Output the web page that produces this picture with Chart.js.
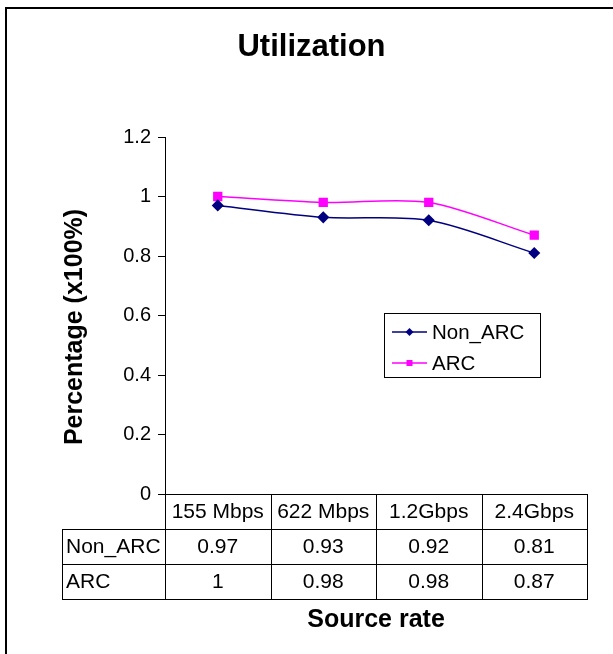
<!DOCTYPE html>
<html>
<head>
<meta charset="utf-8">
<script src="https://cdn.jsdelivr.net/npm/chart.js@4.4.0/dist/chart.umd.min.js"></script>
<style>
  html, body { margin: 0; padding: 0; background: #fff; }
  canvas { display: block; }
</style>
</head>
<body>
<canvas id="utilChart" width="613" height="654"></canvas>
<script>
const categories = ["155 Mbps", "622 Mbps", "1.2Gbps", "2.4Gbps"];
const nonArcValues = [0.97, 0.93, 0.92, 0.81];
const arcValues = [1, 0.98, 0.98, 0.87];
const yTicks = [0, 0.2, 0.4, 0.6, 0.8, 1, 1.2];
const seriesNames = ["Non_ARC", "ARC"];
const seriesColors = ["#000080", "#ff00ff"];
const yTitle = "Percentage (x100%)";

const FONT = "'Liberation Sans', Arial, sans-serif";

function marker(ctx, style, x, y, r, color) {
    ctx.fillStyle = color;
    ctx.beginPath();
    if (style === "rectRot") {
        ctx.moveTo(x, y - r);
        ctx.lineTo(x + r, y);
        ctx.lineTo(x, y + r);
        ctx.lineTo(x - r, y);
        ctx.closePath();
    } else {
        ctx.rect(x - r, y - r, 2 * r, 2 * r);
    }
    ctx.fill();
}

// outer frame, y title, data table under the axis and the boxed legend
const excelExtras = {
    id: "excelExtras",
    afterDraw(chart) {
        const ctx = chart.ctx;
        const area = chart.chartArea;
        const xs = chart.scales.x;
        const half = (xs.getPixelForValue(1) - xs.getPixelForValue(0)) / 2;
        const rowH = 35;
        const labelLeft = 62;
        const top = Math.round(area.bottom);

        ctx.save();

        // frame
        ctx.strokeStyle = "#000";
        ctx.lineWidth = 2;
        ctx.strokeRect(6, 8, 700, 700);

        // y axis title (Excel centres it a bit lower than the plot)
        ctx.save();
        ctx.translate(75, 327);
        ctx.rotate(-Math.PI / 2);
        ctx.fillStyle = "#000";
        ctx.font = "bold 25px " + FONT;
        ctx.textAlign = "center";
        ctx.textBaseline = "middle";
        ctx.fillText(yTitle, 0, 0);
        ctx.restore();

        // table grid
        ctx.lineWidth = 1;
        ctx.beginPath();
        for (let r = 1; r <= 3; r++) {
            const y = top + r * rowH + 0.5;
            ctx.moveTo(labelLeft, y);
            ctx.lineTo(Math.round(area.right) + 1, y);
        }
        ctx.moveTo(labelLeft + 0.5, top + rowH);
        ctx.lineTo(labelLeft + 0.5, top + 3 * rowH);
        for (let i = 0; i <= categories.length; i++) {
            const bx = Math.round(xs.getPixelForValue(0) - half + i * 2 * half) + 0.5;
            ctx.moveTo(bx, top);
            ctx.lineTo(bx, top + 3 * rowH + 1);
        }
        ctx.stroke();

        ctx.fillStyle = "#000";
        ctx.font = "21px " + FONT;
        ctx.textBaseline = "middle";
        ctx.textAlign = "center";
        categories.forEach((c, i) => {
            const cx = xs.getPixelForValue(i);
            ctx.fillText(c, cx, top + rowH / 2 + 1);
            ctx.fillText(String(nonArcValues[i]), cx, top + rowH * 1.5 + 1);
            ctx.fillText(String(arcValues[i]), cx, top + rowH * 2.5 + 1);
        });
        ctx.textAlign = "left";
        ctx.fillText(seriesNames[0], labelLeft + 4, top + rowH * 1.5 + 1);
        ctx.fillText(seriesNames[1], labelLeft + 4, top + rowH * 2.5 + 1);

        // legend
        const lx = 384, ly = 313, lw = 156, lh = 64;
        ctx.font = "20.5px " + FONT;
        ctx.strokeStyle = "#000";
        ctx.lineWidth = 1;
        ctx.strokeRect(lx + 0.5, ly + 0.5, lw, lh);
        const styles = ["rectRot", "rect"];
        seriesNames.forEach((name, i) => {
            const y = ly + 19 + i * 31;
            ctx.strokeStyle = seriesColors[i];
            ctx.lineWidth = 1.5;
            ctx.beginPath();
            ctx.moveTo(lx + 8, y);
            ctx.lineTo(lx + 43, y);
            ctx.stroke();
            marker(ctx, styles[i], lx + 25.5, y, i === 0 ? 4 : 3, seriesColors[i]);
            ctx.fillStyle = "#000";
            ctx.fillText(name, lx + 48, y + 1);
        });

        ctx.restore();
    }
};

const ctx = document.getElementById("utilChart").getContext("2d");

new Chart(ctx, {
    type: "line",
    data: {
        labels: categories,
        datasets: [{
            label: seriesNames[0],
            data: nonArcValues,
            borderColor: seriesColors[0],
            backgroundColor: seriesColors[0],
            borderWidth: 1.5,
            pointStyle: "rectRot",
            pointRadius: 5,
            tension: 0.3
        }, {
            label: seriesNames[1],
            data: arcValues,
            borderColor: seriesColors[1],
            backgroundColor: seriesColors[1],
            borderWidth: 1.5,
            pointStyle: "rect",
            pointRadius: 5.5,
            tension: 0.3
        }]
    },
    options: {
        responsive: false,
        animation: false,
        layout: { padding: { left: 36, right: 26, top: 0, bottom: 0 } },
        plugins: {
            legend: { display: false },
            tooltip: { enabled: false },
            title: {
                display: true,
                text: "Utilization",
                color: "#000",
                font: { family: FONT, size: 31, weight: "bold" },
                padding: { top: 28.4, bottom: 71.4 }
            }
        },
        scales: {
            x: {
                offset: true,
                ticks: { display: false },
                grid: { display: false, offset: true },
                border: { color: "#000" },
                title: {
                    display: true,
                    text: "Source rate",
                    color: "#000",
                    font: { family: FONT, size: 25, weight: "bold" },
                    padding: { top: 0, bottom: 19 }
                },
                afterFit(scale) { scale.height = 160; }
            },
            y: {
                min: yTicks[0],
                max: yTicks[yTicks.length - 1],
                ticks: {
                    stepSize: yTicks[1] - yTicks[0],
                    color: "#000",
                    font: { family: FONT, size: 20 },
                    padding: 7,
                    callback: (v) => String(+v.toFixed(2))
                },
                grid: { drawOnChartArea: false, tickLength: 7, color: "#000" },
                border: { color: "#000" },
                title: { display: false },
                afterFit(scale) { scale.width = 129; }
            }
        }
    },
    plugins: [excelExtras]
});
</script>
</body>
</html>
